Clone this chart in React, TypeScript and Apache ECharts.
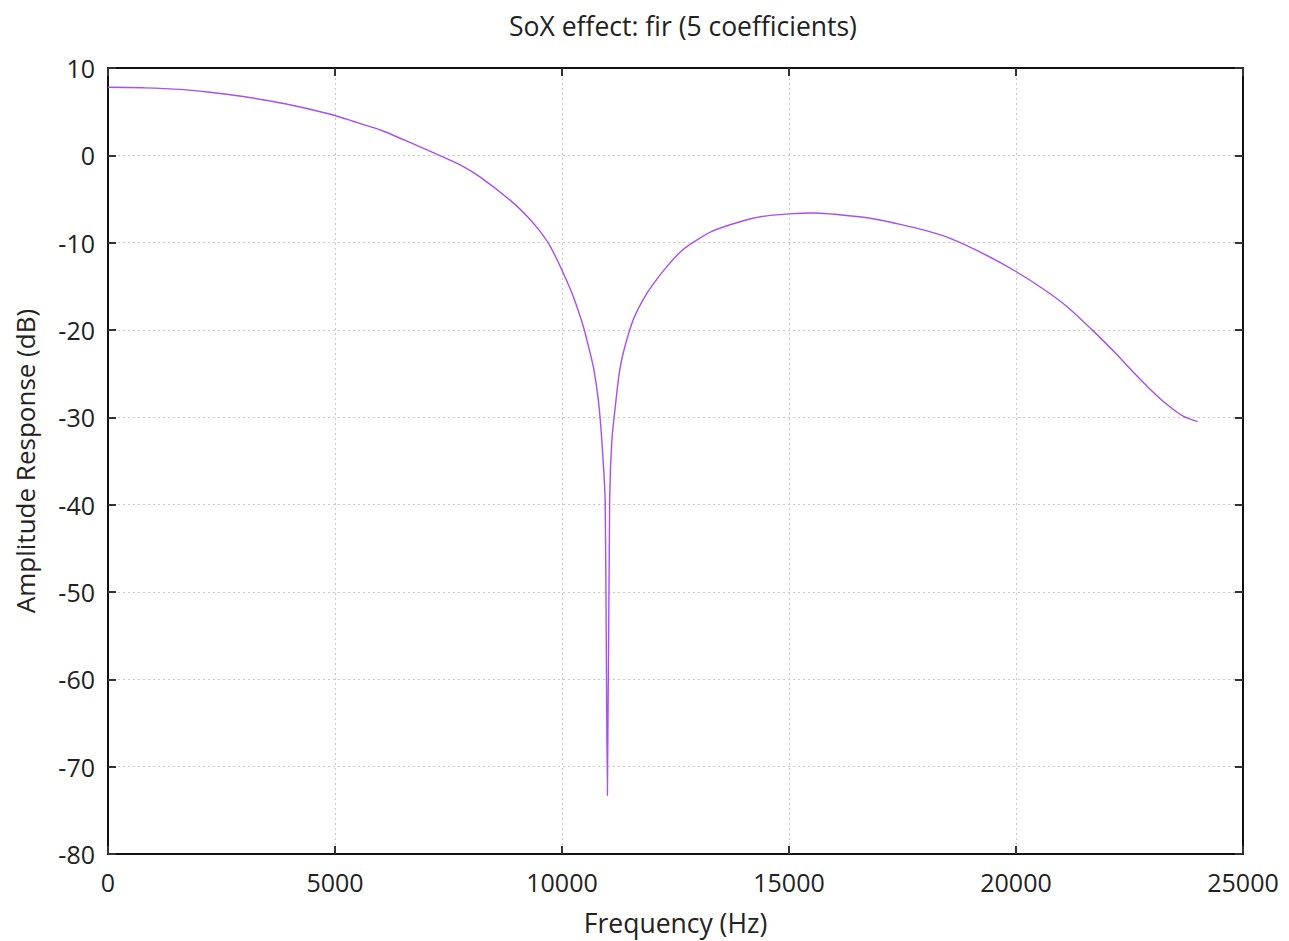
import React, { useEffect, useRef } from "react";
import * as echarts from "echarts";

const freqHz = [
  0, 800, 1600, 2200, 2900, 3900, 4900, 5400, 6000, 6600, 7300, 7800, 8200,
  8850, 9200, 9500, 9750, 10030, 10250, 10470, 10580, 10690, 10800, 10875,
  10950, 11000, 11050, 11100, 11190, 11260, 11350, 11570, 11800, 12000,
  12300, 12600, 12820, 13300, 13920, 14400, 15000, 15540, 16490, 17000,
  17450, 18000, 18550, 19300, 20000, 20600, 21120, 21700, 22200, 22580,
  23000, 23320, 23690, 24000,
];
const ampDb = [
  7.8, 7.73, 7.55, 7.25, 6.8, 5.9, 4.7, 3.9, 2.9, 1.6, 0.0, -1.2, -2.5,
  -5.1, -6.8, -8.6, -10.5, -13.5, -16.2, -19.6, -21.8, -24.2, -28.0, -32.5,
  -39.5, -73.3, -39.5, -32.5, -28.0, -25.0, -22.6, -18.8, -16.4, -14.8,
  -12.8, -11.1, -10.2, -8.7, -7.6, -7.0, -6.7, -6.6, -7.0, -7.4,
  -7.9, -8.6, -9.5, -11.3, -13.3, -15.3, -17.3, -20.1, -22.7, -24.8,
  -27.0, -28.5, -29.9, -30.5,
];

const FONT = "Open Sans";

export default function App() {
  const ref = useRef<HTMLDivElement>(null);
  useEffect(() => {
    if (!ref.current) return;
    const chart = echarts.init(ref.current, undefined, { renderer: "svg" });
    const tickStyle = { show: true, inside: true, length: 8, lineStyle: { color: "#333", width: 2 } };
    const split = { show: true, lineStyle: { color: "#c8c8c8", width: 1, type: [2, 3] as any } };
    const axisLine = { show: true, onZero: false, lineStyle: { color: "#111", width: 2 } };
    chart.setOption({
      animation: false,
      backgroundColor: "#ffffff",
      title: {
        text: "SoX effect: fir (5 coefficients)",
        left: 678,
        textAlign: "center",
        top: 7,
        textStyle: { fontFamily: FONT, fontSize: 26.5, fontWeight: "normal", color: "#222" },
      },
      grid: { left: 108, right: 46, top: 68, bottom: 86, show: true, borderColor: "#111", borderWidth: 2 },
      xAxis: [
        {
          type: "value",
          min: 0,
          max: 25000,
          interval: 5000,
          name: "Frequency (Hz)",
          nameLocation: "middle",
          nameGap: 55,
          nameTextStyle: { fontFamily: FONT, fontSize: 26.5, color: "#222" },
          axisLine,
          axisTick: tickStyle,
          axisLabel: {
            fontFamily: FONT,
            fontSize: 25,
            color: "#222",
            margin: 15,
            formatter: (v: number) => String(v),
          },
          splitLine: split,
        },
        {
          type: "value",
          position: "top",
          min: 0,
          max: 25000,
          interval: 5000,
          axisLine,
          axisTick: tickStyle,
          axisLabel: { show: false },
          splitLine: { show: false },
        },
      ],
      yAxis: [
        {
          type: "value",
          min: -80,
          max: 10,
          interval: 10,
          name: "Amplitude Response (dB)",
          nameLocation: "middle",
          nameGap: 70,
          nameTextStyle: { fontFamily: FONT, fontSize: 26, color: "#222" },
          axisLine,
          axisTick: tickStyle,
          axisLabel: { fontFamily: FONT, fontSize: 25, color: "#222", margin: 13 },
          splitLine: split,
        },
        {
          type: "value",
          position: "right",
          min: -80,
          max: 10,
          interval: 10,
          axisLine,
          axisTick: tickStyle,
          axisLabel: { show: false },
          splitLine: { show: false },
        },
      ],
      series: [
        {
          type: "line",
          data: freqHz.map((f, i) => [f, ampDb[i]]),
          showSymbol: false,
          smooth: 0.2,
          lineStyle: { color: "#a84ff0", width: 1.4 },
          xAxisIndex: 0,
          yAxisIndex: 0,
        },
      ],
    });
    return () => chart.dispose();
  }, []);
  return (
    <div
      ref={ref}
      style={{ position: "fixed", left: 0, top: 0, width: 1289, height: 941 }}
    />
  );
}
